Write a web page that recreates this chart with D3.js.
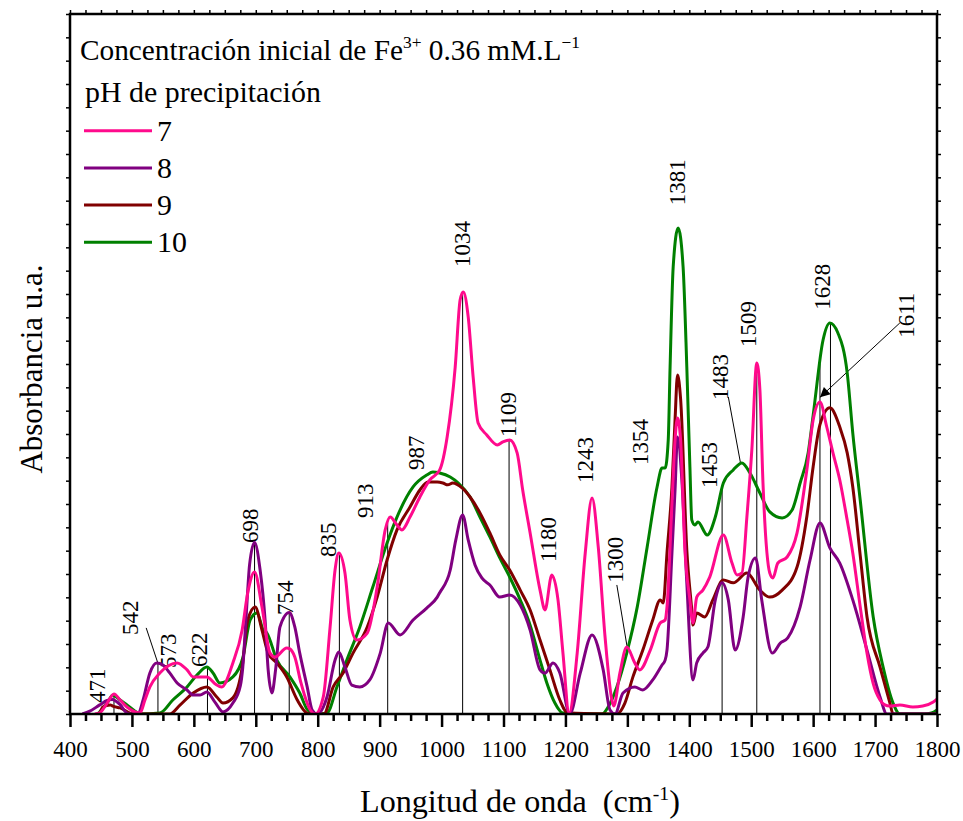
<!DOCTYPE html>
<html>
<head>
<meta charset="utf-8">
<script src="https://cdn.jsdelivr.net/npm/d3@7"></script>
<style>
  body { margin: 0; background: #fff; }
</style>
</head>
<body>
<svg id="chart" width="963" height="821"></svg>
<script>
// FTIR spectra: [wavenumber (cm-1), absorbance (a.u.)] for each precipitation pH
const ph7 = [[440,0],[448,0.05],[460,0.47],[471,0.86],[481,0.6],[492,0.3],[513,0.04],[521,0.6],[529,1.16],[545,1.76],[573,2.19],[589,1.89],[599,1.59],[621,1.59],[634,1.3],[645,1.16],[663,2.19],[678,3.6],[687,5.19],[698,6.09],[710,4.59],[723,2.61],[731,2.44],[750,2.83],[755,2.79],[763,2.44],[773,1.33],[788,0.17],[796,0],[809,0.73],[820,3.73],[828,6.17],[834,6.9],[844,6.04],[852,4.03],[863,3.17],[880,3.47],[896,5.44],[909,7.89],[917,8.44],[928,8.1],[936,7.89],[949,8.44],[965,9.3],[981,10.03],[997,10.46],[1009,11.87],[1022,14.87],[1030,17.75],[1035,18.09],[1043,17.02],[1051,14.44],[1059,12.47],[1073,11.96],[1090,11.53],[1099,11.66],[1110,11.74],[1122,11.19],[1131,9.6],[1143,7.76],[1159,5.31],[1167,4.46],[1178,5.96],[1188,4.89],[1196,2.61],[1206,0.04],[1219,2.61],[1232,6.9],[1243,9.26],[1253,7.16],[1264,3.3],[1275,0.6],[1278,0.34],[1288,1.76],[1299,2.87],[1312,2.19],[1320,1.89],[1337,2.74],[1353,3.9],[1361,4.03],[1364,4.59],[1372,9.04],[1377,11.74],[1381,12.69],[1386,11.74],[1393,7.03],[1401,4.89],[1406,3.9],[1412,5.01],[1422,5.31],[1433,5.87],[1455,7.67],[1469,6.47],[1477,5.96],[1485,6.04],[1493,8.44],[1501,11.32],[1509,15.04],[1514,13.9],[1519,9.9],[1530,6.04],[1535,5.83],[1543,6.47],[1558,6.73],[1574,7.76],[1590,10.5],[1600,12.6],[1611,13.37],[1622,12.3],[1632,11.19],[1643,10.03],[1655,8.3],[1664,6.9],[1676,4.6],[1687,2.6],[1697,1.3],[1708,0.6],[1715,0.4],[1724,0.34],[1740,0.39],[1761,0.3],[1777,0.34],[1794,0.51],[1800,0.64]];

const ph8 = [[420,0],[432,0.12],[448,0.39],[460,0.58],[468,0.62],[481,0.4],[492,0.04],[500,0],[510,0.02],[518,0.6],[529,1.76],[540,2.19],[550,2.1],[561,1.76],[573,1.33],[589,1.03],[599,0.81],[610,0.81],[621,0.94],[634,0.51],[647,0.09],[663,0.47],[675,1.2],[679,2.0],[684,4.0],[690,6.4],[698,7.35],[707,6.17],[715,4.03],[720,1.89],[726,0.9],[732,1.9],[739,3.73],[754,4.35],[763,3.73],[771,2.61],[783,1.16],[791,0.17],[799,0],[815,0.73],[828,2.31],[834,2.66],[844,2.01],[855,1.24],[868,1.16],[884,1.46],[901,2.61],[914,3.9],[933,3.39],[954,4.03],[976,4.54],[993,5.01],[997,5.2],[1014,6.17],[1023,7.46],[1034,8.53],[1043,7.46],[1054,6.39],[1065,5.83],[1078,5.53],[1094,5.01],[1110,5.1],[1127,4.67],[1143,3.6],[1159,1.89],[1167,1.75],[1180,2.19],[1191,1.76],[1207,0],[1224,1.76],[1243,3.39],[1261,1.89],[1272,0.17],[1280,0],[1293,0.9],[1312,1.16],[1325,1.03],[1341,1.46],[1356,2.1],[1361,2.31],[1364,2.74],[1372,6.9],[1377,9.6],[1381,11.87],[1388,10.03],[1396,5.62],[1406,1.46],[1412,2.19],[1422,2.61],[1430,2.87],[1442,4.89],[1453,5.62],[1463,4.89],[1474,2.74],[1487,4.16],[1495,5.87],[1507,6.69],[1517,4.89],[1534,2.61],[1547,3.04],[1559,3.26],[1579,4.59],[1595,6.6],[1611,8.19],[1627,7.12],[1643,6.47],[1664,4.89],[1687,2.74],[1708,0.73],[1719,0],[1800,0]];

const ph9 = [[448,0],[453,0.3],[465,0.39],[469,0.34],[481,0.26],[502,0],[561,0],[578,0.39],[599,0.9],[621,1.16],[637,0.73],[647,0.47],[663,0.69],[678,2.0],[687,4.03],[699,4.59],[710,3.6],[720,2.61],[734,2.19],[750,1.59],[767,0.6],[783,0.04],[792,0],[810,0],[825,1.16],[841,1.76],[857,2.61],[880,3.73],[896,5.01],[912,6.6],[928,7.89],[949,8.87],[965,9.6],[978,9.94],[993,9.94],[1002,9.9],[1010,9.82],[1018,9.9],[1033,9.69],[1046,9.3],[1062,8.62],[1078,7.76],[1094,6.82],[1110,6.17],[1127,5.31],[1143,4.46],[1159,3.17],[1175,1.89],[1191,0.6],[1204,0.04],[1283,0],[1296,0.47],[1309,1.59],[1325,2.74],[1341,4.03],[1353,4.89],[1358,4.76],[1364,6.9],[1372,9.73],[1377,12.6],[1381,14.53],[1386,13.5],[1396,7.03],[1404,4.46],[1406,3.81],[1412,4.33],[1425,4.16],[1438,4.89],[1455,5.74],[1471,5.62],[1493,6.04],[1514,5.31],[1530,5.01],[1550,5.31],[1574,6.3],[1590,8.5],[1600,10.6],[1611,12.4],[1627,13.12],[1643,12.3],[1655,11.19],[1664,9.73],[1676,6.8],[1687,4.16],[1708,2.01],[1724,0.47],[1729,0],[1800,0]];

const ph10 = [[445,0],[460,0.47],[469,0.8],[481,0.6],[492,0.39],[510,0.04],[513,0],[545,0.04],[566,0.6],[589,1.16],[605,1.67],[621,2.01],[631,1.76],[642,1.33],[663,1.59],[679,2.4],[691,4.03],[702,4.33],[712,3.6],[718,3.47],[734,2.31],[755,1.59],[771,0.9],[784,0.17],[799,0],[815,0.04],[831,1.16],[847,2.31],[868,3.73],[889,5.44],[912,7.33],[928,8.44],[954,9.73],[976,10.24],[986,10.37],[997,10.33],[1014,10.16],[1027,9.9],[1046,9.3],[1062,8.44],[1078,7.59],[1094,6.69],[1110,5.87],[1127,4.89],[1143,3.81],[1159,2.31],[1170,1.33],[1183,0.47],[1196,0.04],[1259,0],[1269,0.3],[1283,1.16],[1299,2.61],[1316,4.59],[1332,7.16],[1348,9.73],[1356,10.54],[1361,10.54],[1366,11.74],[1369,14.87],[1374,19.16],[1382,20.83],[1390,19.16],[1396,14.87],[1401,10.59],[1404,8.32],[1409,8.1],[1414,8.23],[1429,7.67],[1442,8.44],[1455,9.9],[1471,10.46],[1485,10.76],[1498,10.33],[1514,9.47],[1530,8.66],[1550,8.4],[1566,8.74],[1579,9.9],[1592,11.2],[1600,12.8],[1616,16.03],[1627,16.76],[1640,16.33],[1655,14.62],[1664,12.04],[1676,9.17],[1697,4.16],[1713,2.01],[1729,0.47],[1740,0],[1780,0],[1791,0.04],[1800,0.17]];

const seriesNames = ["7", "8", "9", "10"];
const seriesData = [ph7, ph8, ph9, ph10];
const seriesColors = ["#ff0a8c", "#800080", "#800000", "#008000"];

const xTickValues = [400, 500, 600, 700, 800, 900, 1000, 1100, 1200, 1300, 1400, 1500, 1600, 1700, 1800];

// band positions marked with a drop line, and the band labels
const dropLines = [471, 542, 622, 698, 754, 835, 913, 1034, 1109, 1453, 1509, 1611, 1628];
const bandLabels = ["471", "542", "573", "622", "698", "754", "835", "913", "987", "1034", "1109", "1180", "1243", "1300", "1354", "1381", "1453", "1483", "1509", "1628", "1611"];

// ---- typeface: first serif face the system actually has ----
function fontAvailable(name) {
  const ctx = document.createElement("canvas").getContext("2d");
  const sample = "mmmmmmmmmmlli1WQ@#0.36";
  return ["monospace", "sans-serif"].some(fallback => {
    ctx.font = `40px ${fallback}`;
    const base = ctx.measureText(sample).width;
    ctx.font = `40px '${name}', ${fallback}`;
    return ctx.measureText(sample).width !== base;
  });
}
const serifCandidates = ["Liberation Serif", "Tinos", "Times New Roman", "Times", "DejaVu Serif", "Noto Serif", "FreeSerif", "Nimbus Roman", "Nimbus Roman No9 L"];
const found = serifCandidates.find(fontAvailable);
const FONT = found ? `'${found}', serif` : "serif";

// ---- layout ----
const plot = { left: 70, right: 937, top: 14, bottom: 714 };

// where each band label sits (wavenumber of its centre, absorbance of its lower end)
const labelAnchor = {
  "471": [444, 0.47], "542": [497, 3.39], "573": [558, 1.97], "622": [608, 2.01],
  "698": [691, 7.33], "754": [747, 4.24], "835": [817, 6.73], "913": [876, 8.4],
  "987": [959, 10.46], "1034": [1033, 19.16], "1109": [1107, 11.87], "1180": [1172, 6.51],
  "1243": [1232, 9.9], "1300": [1280, 5.62], "1354": [1320, 10.67], "1381": [1380, 21.8],
  "1453": [1432, 9.69], "1483": [1450, 13.46], "1509": [1495, 15.73], "1628": [1614, 17.32],
  "1611": [1750, 16.12]
};
// leader lines: start point near the label, end on the curve of the given series
const leaders = [
  { band: 542, from: [523, 3.69], series: 1, arrow: false },
  { band: 1300, from: [1283, 5.53], series: 0, arrow: false },
  { band: 1483, from: [1463, 13.59], series: 3, arrow: false },
  { band: 1611, from: [1740, 16.76], series: 0, arrow: true, lift: 0.2 }
];

const svg = d3.select("#chart").attr("font-family", FONT);

const x = d3.scaleLinear().domain([400, 1800]).range([plot.left, plot.right]);
const y = d3.scaleLinear().domain([0, 30]).range([plot.bottom, plot.top]);

function valueAt(series, w) {
  for (let i = 1; i < series.length; i++) {
    const [x0, y0] = series[i - 1], [x1, y1] = series[i];
    if (w >= x0 && w <= x1) return y0 + (y1 - y0) * (w - x0) / (x1 - x0);
  }
  return 0;
}

// scale a text block's font so that it spans the given width
function fitWidth(sel, width) {
  const node = sel.node();
  const base = +sel.attr("font-size");
  const len = node.getComputedTextLength();
  if (len > 0) {
    const k = width / len;
    sel.attr("font-size", base * k);
    sel.selectAll("tspan").each(function () {
      const t = d3.select(this);
      if (t.attr("font-size")) t.attr("font-size", +t.attr("font-size") * k);
      if (t.attr("dy")) t.attr("dy", +t.attr("dy") * k);
    });
  }
  return sel;
}

const defs = svg.append("defs");
defs.append("clipPath").attr("id", "plotClip")
  .append("rect")
  .attr("x", plot.left).attr("y", plot.top)
  .attr("width", plot.right - plot.left).attr("height", plot.bottom - plot.top);

defs.append("marker")
  .attr("id", "arrowHead").attr("viewBox", "0 0 10 10")
  .attr("refX", 10).attr("refY", 5)
  .attr("markerWidth", 14).attr("markerHeight", 10)
  .attr("markerUnits", "userSpaceOnUse")
  .attr("orient", "auto")
  .append("path").attr("d", "M0,0 L10,5 L0,10 Z").attr("fill", "#000");

// drop lines from the axis up to the highest curve at each band
const ann = svg.append("g").attr("class", "annotations");
ann.selectAll("line.drop").data(dropLines).join("line")
  .attr("class", "drop")
  .attr("x1", d => x(d)).attr("x2", d => x(d))
  .attr("y1", y(0))
  .attr("y2", d => y(d3.max(seriesData, s => valueAt(s, d))))
  .attr("stroke", "#000").attr("stroke-width", 1);

ann.selectAll("line.leader").data(leaders).join("line")
  .attr("class", "leader")
  .attr("x1", d => x(d.from[0])).attr("y1", d => y(d.from[1]))
  .attr("x2", d => x(d.band))
  .attr("y2", d => y(valueAt(seriesData[d.series], d.band) + (d.lift || 0)))
  .attr("stroke", "#000").attr("stroke-width", 1)
  .attr("marker-end", d => d.arrow ? "url(#arrowHead)" : null);

// spectra
const line = d3.line()
  .x(d => x(d[0])).y(d => y(d[1]))
  .curve(d3.curveMonotoneX);

const drawOrder = [3, 2, 1, 0];
svg.append("g").attr("clip-path", "url(#plotClip)")
  .selectAll("path").data(drawOrder).join("path")
  .attr("d", i => line(seriesData[i]))
  .attr("fill", "none")
  .attr("stroke", i => seriesColors[i])
  .attr("stroke-width", 3)
  .attr("stroke-linejoin", "round");

// band labels, rotated
ann.selectAll("text.band").data(bandLabels).join("text")
  .attr("class", "band")
  .attr("transform", d => `translate(${x(labelAnchor[d][0])},${y(labelAnchor[d][1])}) rotate(-90)`)
  .attr("dy", "0.34em")
  .attr("font-size", 23)
  .attr("fill", "#000")
  .text(d => d);

// axes
const minorX = d3.range(400, 1801, 25).filter(v => v % 100 !== 0);
const yTickValues = d3.range(0, 31);

function styleAxis(g) {
  g.select(".domain").remove();
  g.attr("font-family", FONT);
  g.selectAll(".tick line").attr("stroke", "#000").attr("stroke-width", 2.5);
}

svg.append("g").attr("transform", `translate(0,${plot.bottom})`)
  .call(d3.axisBottom(x).tickValues(minorX).tickSize(7).tickFormat(""))
  .call(styleAxis);

svg.append("g").attr("transform", `translate(0,${plot.bottom})`)
  .call(d3.axisBottom(x).tickValues(xTickValues).tickSize(13).tickPadding(14).tickFormat(d3.format("d")))
  .call(styleAxis)
  .attr("font-size", 23)
  .call(g => g.selectAll(".tick text").attr("fill", "#000"));

svg.append("g").attr("transform", `translate(0,${plot.top})`)
  .call(d3.axisTop(x).tickValues(d3.range(400, 1801, 25)).tickSize(4).tickFormat(""))
  .call(styleAxis)
  .call(g => g.selectAll(".tick line").attr("stroke-width", 1.5));

svg.append("g").attr("transform", `translate(${plot.left},0)`)
  .call(d3.axisLeft(y).tickValues(yTickValues).tickSize(4).tickFormat(""))
  .call(styleAxis)
  .call(g => g.selectAll(".tick line").attr("stroke-width", 1.5));

svg.append("g").attr("transform", `translate(${plot.right},0)`)
  .call(d3.axisRight(y).tickValues(yTickValues).tickSize(4).tickFormat(""))
  .call(styleAxis)
  .call(g => g.selectAll(".tick line").attr("stroke-width", 1.5));

svg.append("rect")
  .attr("x", plot.left).attr("y", plot.top)
  .attr("width", plot.right - plot.left).attr("height", plot.bottom - plot.top)
  .attr("fill", "none").attr("stroke", "#000").attr("stroke-width", 2.5);

// axis titles
const xTitle = svg.append("text")
  .attr("x", 360).attr("y", 812)
  .attr("font-size", 31)
  .attr("fill", "#000")
  .style("white-space", "pre");
xTitle.append("tspan").text("Longitud de onda  (cm");
xTitle.append("tspan").attr("dy", -12).attr("font-size", 19).text("-1");
xTitle.append("tspan").attr("dy", 12).text(")");
fitWidth(xTitle, 320);

svg.append("text")
  .attr("transform", `translate(42,${(plot.top + plot.bottom) / 2 + 5}) rotate(-90)`)
  .attr("text-anchor", "middle").attr("font-size", 31)
  .attr("fill", "#000")
  .text("Absorbancia u.a.");

// legend
const legend = svg.append("g").attr("class", "legend");
const title = legend.append("text").attr("x", 80).attr("y", 60).attr("font-size", 27).attr("fill", "#000");
title.append("tspan").text("Concentración inicial de Fe");
title.append("tspan").attr("dy", -11).attr("font-size", 16).text("3+");
title.append("tspan").attr("dy", 11).text(" 0.36 mM.L");
title.append("tspan").attr("dy", -11).attr("font-size", 16).text("\u22121");
fitWidth(title, 500);

const sub = legend.append("text").attr("x", 85).attr("y", 102).attr("font-size", 27).attr("fill", "#000")
  .text("pH de precipitación");
fitWidth(sub, 236);

const item = legend.selectAll("g.item").data(seriesNames).join("g")
  .attr("class", "item")
  .attr("transform", (d, i) => `translate(84,${130.7 + i * 37.2})`);
item.append("line").attr("x1", 0).attr("x2", 68).attr("y1", 0).attr("y2", 0)
  .attr("stroke", (d, i) => seriesColors[i]).attr("stroke-width", 3);
item.append("text").attr("x", 73).attr("y", 10).attr("font-size", sub.attr("font-size"))
  .attr("fill", "#000").text(d => d);
</script>
</body>
</html>
